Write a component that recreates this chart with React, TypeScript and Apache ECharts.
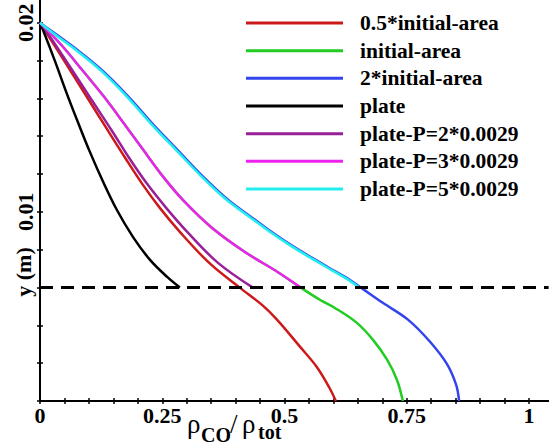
import React, { useEffect, useRef } from 'react';
import * as echarts from 'echarts';

const W = 549;
const H = 445;

const seriesNames = [
  '0.5*initial-area',
  'initial-area',
  '2*initial-area',
  'plate',
  'plate-P=2*0.0029',
  'plate-P=3*0.0029',
  'plate-P=5*0.0029',
];
const seriesColors = ['#cc1a1a', '#22cc22', '#3344ee', '#000000', '#991f99', '#ee22ee', '#22eeee'];

// [rho_CO / rho_tot, y (m)]
const halfArea: [number, number][] = [
  [0, 0.02], [0.0102, 0.01958], [0.0573, 0.01767], [0.0982, 0.01598], [0.139, 0.01429],
  [0.174, 0.01286], [0.209, 0.01148], [0.245, 0.01021], [0.286, 0.00894], [0.346, 0.0073],
  [0.409, 0.00598], [0.454, 0.00508], [0.485, 0.00429], [0.532, 0.00286],
  [0.566, 0.0018], [0.591, 0.00074], [0.605, 0],
];
const initialArea: [number, number][] = [
  [0, 0.02], [0.045, 0.01878], [0.0859, 0.01751], [0.131, 0.01608], [0.172, 0.01466],
  [0.211, 0.01328], [0.252, 0.01185], [0.294, 0.01058], [0.352, 0.00915], [0.419, 0.00788],
  [0.489, 0.00677], [0.534, 0.00598], [0.573, 0.00534], [0.603, 0.00492], [0.648, 0.00413],
  [0.681, 0.00323], [0.71, 0.00217], [0.73, 0.00111], [0.742, 0],
];
const doubleArea: [number, number][] = [
  [0, 0.02], [0.0337, 0.01937], [0.0807, 0.01847], [0.13, 0.01741], [0.183, 0.01603],
  [0.232, 0.0146], [0.281, 0.01328], [0.334, 0.01185], [0.385, 0.01063], [0.443, 0.00952],
  [0.479, 0.00884], [0.516, 0.0082], [0.553, 0.00762], [0.59, 0.00706], [0.627, 0.00651],
  [0.657, 0.00598], [0.701, 0.00519], [0.753, 0.00429], [0.798, 0.00312], [0.832, 0.00196],
  [0.851, 0.00085], [0.857, 0],
];
const plate: [number, number][] = [
  [0, 0.02], [0.006, 0.01963], [0.031, 0.01794], [0.055, 0.01624], [0.078, 0.01471],
  [0.102, 0.01317], [0.129, 0.01159], [0.157, 0.01011], [0.19, 0.00868], [0.225, 0.00746],
  [0.26, 0.00656], [0.286, 0.006],
];
const plateP2: [number, number][] = [
  [0, 0.02], [0.0123, 0.01958], [0.0613, 0.01767], [0.104, 0.01598], [0.147, 0.01429],
  [0.182, 0.01286], [0.219, 0.01148], [0.258, 0.01021], [0.301, 0.00894], [0.364, 0.0073],
  [0.436, 0.00598],
];
const plateP3: [number, number][] = [
  [0, 0.02], [0.045, 0.01878], [0.0859, 0.01751], [0.131, 0.01608], [0.172, 0.01466],
  [0.211, 0.01328], [0.252, 0.01185], [0.294, 0.01058], [0.352, 0.00915], [0.419, 0.00788],
  [0.489, 0.00677], [0.534, 0.00598],
];
const plateP5: [number, number][] = [
  [0, 0.02], [0.0307, 0.01937], [0.0777, 0.01847], [0.127, 0.01741], [0.18, 0.01603],
  [0.229, 0.0146], [0.278, 0.01328], [0.331, 0.01185], [0.382, 0.01063], [0.44, 0.00952],
  [0.476, 0.00884], [0.513, 0.0082], [0.55, 0.00762], [0.587, 0.00706], [0.624, 0.00651],
  [0.654, 0.00598],
];

const curves = [halfArea, initialArea, doubleArea, plate, plateP2, plateP3, plateP5];

// reference height (m) drawn as the dashed line
const thresholdY = 0.006;

const xMin = 0;
const xMax = 1.04;
const yMin = 0;
const yMax = 0.0212;
const xTickLabels = [0, 0.25, 0.5, 0.75, 1];
const yTickLabels = [0.01, 0.02];
const xTicks = Array.from({ length: 21 }, (_, i) => +(i * 0.05).toFixed(2));
const yTicks = Array.from({ length: 11 }, (_, i) => +(i * 0.002).toFixed(3));

const SERIF = '"Liberation Serif", "Times New Roman", serif';

function App() {
  const ref = useRef<HTMLDivElement>(null);

  useEffect(() => {
    if (!ref.current) return;
    const chart = echarts.init(ref.current, null, { renderer: 'svg' });

    const axisLineStyle = { color: '#000', width: 2 };
    const tickStyle = { color: '#000', width: 1.5 };
    const labelStyle = {
      fontFamily: SERIF,
      fontWeight: 'bold' as const,
      fontSize: 22,
      color: '#000',
    };

    const curveSeries = curves.map((d, i) => ({
      type: 'line',
      name: seriesNames[i],
      data: d,
      symbol: 'none',
      showSymbol: false,
      smooth: 0.35,
      z: 2 + i,
      lineStyle: { color: seriesColors[i], width: 2.5 },
      itemStyle: { color: seriesColors[i] },
    }));

    const thresholdSeries = {
      type: 'line',
      name: 'threshold',
      data: [
        [xMin, thresholdY],
        [xMax, thresholdY],
      ],
      symbol: 'none',
      showSymbol: false,
      silent: true,
      z: 20,
      lineStyle: { color: '#000', width: 3, type: [13, 8] },
    };

    const option: any = {
      animation: false,
      backgroundColor: '#fff',
      grid: { left: 40, top: 0, right: 0.4, bottom: 44, outerBoundsMode: 'none' },
      legend: {
        orient: 'vertical',
        left: 246,
        top: 12,
        padding: 0,
        icon: 'rect',
        itemWidth: 97,
        itemHeight: 3,
        itemGap: 5.67,
        selectedMode: false,
        data: seriesNames,
        textStyle: {
          fontFamily: SERIF,
          fontWeight: 'bold',
          fontSize: 21.5,
          lineHeight: 21,
          color: '#000',
          padding: [0, 0, 0, 12],
        },
      },
      xAxis: [
        {
          type: 'value',
          min: xMin,
          max: xMax,
          position: 'bottom',
          splitLine: { show: false },
          axisLine: { lineStyle: axisLineStyle },
          axisTick: { customValues: xTicks, length: 3, lineStyle: tickStyle },
          axisLabel: { ...labelStyle, customValues: xTickLabels, margin: 3, formatter: (v: number) => String(v) },
        },
        {
          type: 'value',
          min: xMin,
          max: xMax,
          position: 'bottom',
          splitLine: { show: false },
          axisLine: { show: false },
          axisTick: { inside: true, customValues: xTicks, length: 3, lineStyle: tickStyle },
          axisLabel: { show: false },
        },
      ],
      yAxis: [
        {
          type: 'value',
          min: yMin,
          max: yMax,
          position: 'left',
          splitLine: { show: false },
          axisLine: { lineStyle: axisLineStyle },
          axisTick: { customValues: yTicks, length: 3, lineStyle: tickStyle },
          axisLabel: { ...labelStyle, customValues: yTickLabels, rotate: 90, margin: 4, formatter: (v: number) => String(v) },
        },
        {
          type: 'value',
          min: yMin,
          max: yMax,
          position: 'left',
          splitLine: { show: false },
          axisLine: { show: false },
          axisTick: { inside: true, customValues: yTicks, length: 3, lineStyle: tickStyle },
          axisLabel: { show: false },
        },
      ],
      series: [...curveSeries, thresholdSeries],
      graphic: [
        {
          type: 'text',
          x: 23,
          y: 272,
          rotation: Math.PI / 2,
          style: {
            text: 'y (m)',
            font: `bold 22px ${SERIF}`,
            align: 'center',
            verticalAlign: 'middle',
            fill: '#000',
          },
        },
        {
          type: 'group',
          children: [
            { type: 'text', x: 187, y: 437, style: { text: 'ρ', font: `27px ${SERIF}`, verticalAlign: 'bottom', fill: '#000' } },
            { type: 'text', x: 201, y: 445, style: { text: 'CO', font: `bold 20px ${SERIF}`, verticalAlign: 'bottom', fill: '#000' } },
            { type: 'text', x: 230, y: 437, style: { text: '/', font: `27px ${SERIF}`, verticalAlign: 'bottom', fill: '#000' } },
            { type: 'text', x: 242, y: 437, style: { text: 'ρ', font: `27px ${SERIF}`, verticalAlign: 'bottom', fill: '#000' } },
            { type: 'text', x: 258, y: 442, style: { text: 'tot', font: `bold 20px ${SERIF}`, verticalAlign: 'bottom', fill: '#000' } },
          ],
        },
      ],
    };

    chart.setOption(option);
    return () => chart.dispose();
  }, []);

  return (
    <div
      ref={ref}
      style={{ position: 'fixed', left: 0, top: 0, width: W, height: H, background: '#fff' }}
    />
  );
}

export default App;
